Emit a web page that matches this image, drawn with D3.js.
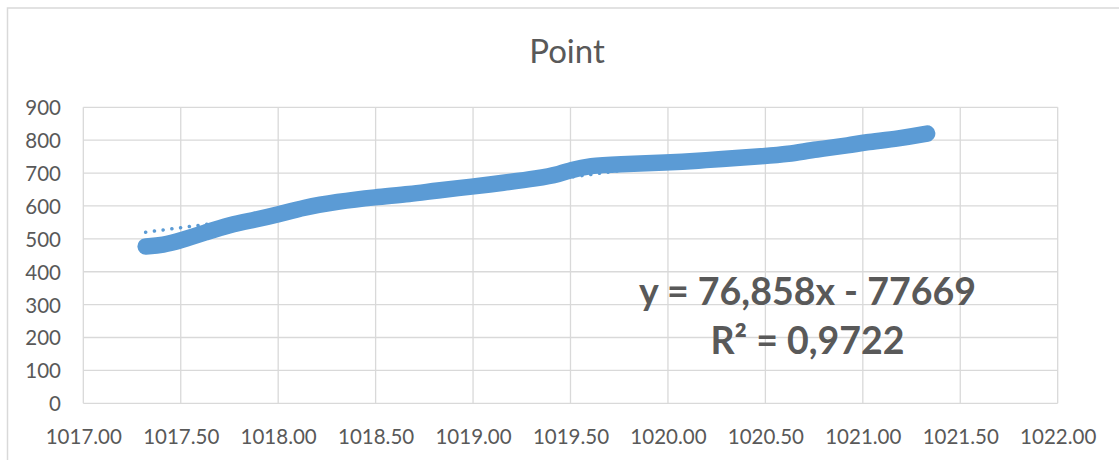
<!DOCTYPE html>
<html>
<head>
<meta charset="utf-8">
<script src="https://cdn.jsdelivr.net/npm/d3@7"></script>
<style>
  html, body { margin: 0; padding: 0; background: #fff; }
  svg { display: block; }
</style>
</head>
<body>
<svg id="chart" width="1119" height="460"></svg>
<script>
// ---- data ----
const pressure = [1017.32, 1017.41, 1017.50, 1017.63, 1017.75, 1017.88, 1018.00, 1018.13, 1018.30, 1018.50,
                  1018.68, 1018.81, 1019.00, 1019.15, 1019.33, 1019.45, 1019.50, 1019.60, 1019.74, 1020.00,
                  1020.17, 1020.25, 1020.50, 1020.61, 1020.76, 1020.94, 1021.00, 1021.19, 1021.33];
const point = [477, 481, 495, 520, 543, 558, 574, 595, 613, 627,
               636, 647, 659, 670, 684, 698, 709, 723, 727, 732,
               738, 742, 752, 757, 772, 785, 793, 805, 820];
const xTicks = [1017.0, 1017.5, 1018.0, 1018.5, 1019.0, 1019.5, 1020.0, 1020.5, 1021.0, 1021.5, 1022.0];
const yTicks = [0, 100, 200, 300, 400, 500, 600, 700, 800, 900];
const trendSlope = 76.858;
const trendIntercept = -77669;
const equationLabel = "y = 76,858x - 77669";
const r2Label = "R² = 0,9722";
const title = "Point";

// ---- layout ----
const svg = d3.select("#chart");
const plotL = 83.3, plotR = 1057.7, plotT = 107.3, plotB = 403.3;
const x = d3.scaleLinear().domain([1017, 1022]).range([plotL, plotR]);
const y = d3.scaleLinear().domain([0, 900]).range([plotB, plotT]);
const fontFam = "Lato, 'Open Sans', sans-serif";
const grid = "#d9d9d9";
const textCol = "#595959";
const blue = "#5b9bd5";

// outer chart border
svg.append("rect").attr("x", 7.5).attr("y", 8).attr("width", 1130).attr("height", 470)
  .attr("fill", "none").attr("stroke", grid).attr("stroke-width", 1.5);

// title
svg.append("text").attr("x", 567).attr("y", 63).attr("text-anchor", "middle")
  .attr("font-family", fontFam).attr("font-size", 33).attr("fill", textCol).text(title);

// gridlines
svg.append("g").selectAll("line").data(yTicks).join("line")
  .attr("x1", plotL).attr("x2", plotR).attr("y1", d => y(d)).attr("y2", d => y(d))
  .attr("stroke", grid).attr("stroke-width", 1.3);
svg.append("g").selectAll("line").data(xTicks).join("line")
  .attr("x1", d => x(d)).attr("x2", d => x(d)).attr("y1", plotT).attr("y2", plotB)
  .attr("stroke", grid).attr("stroke-width", 1.3);

// axes (labels only)
const yAxis = d3.axisLeft(y).tickValues(yTicks).tickSize(0).tickPadding(0).tickFormat(d3.format("d"));
const gy = svg.append("g").attr("transform", `translate(${61},0)`).call(yAxis);
gy.select(".domain").remove();
gy.selectAll("text").attr("font-family", fontFam).attr("font-size", 20.5).attr("fill", textCol).attr("dy", "0.36em");

const xAxis = d3.axisBottom(x).tickValues(xTicks).tickSize(0).tickPadding(0).tickFormat(d3.format(".2f"));
const gx = svg.append("g").attr("transform", `translate(0,${plotB})`).call(xAxis);
gx.select(".domain").remove();
gx.selectAll("text").attr("font-family", fontFam).attr("font-size", 20.5).attr("fill", textCol).attr("dy", null).attr("y", 41);

// trendline (dotted)
const xMin = d3.min(pressure), xMax = d3.max(pressure);
svg.append("line")
  .attr("x1", x(xMin)).attr("y1", y(trendSlope * xMin + trendIntercept))
  .attr("x2", x(xMax)).attr("y2", y(trendSlope * xMax + trendIntercept))
  .attr("stroke", blue).attr("stroke-width", 3.5).attr("stroke-linecap", "round")
  .attr("stroke-dasharray", "0.1 8.7");

// data series (dense markers -> thick band)
const pts = pressure.map((p, i) => [p, point[i]]);
svg.append("path").datum(pts)
  .attr("d", d3.line().x(d => x(d[0])).y(d => y(d[1])).curve(d3.curveBasis))
  .attr("fill", "none").attr("stroke", blue).attr("stroke-width", 16.5)
  .attr("stroke-linecap", "round").attr("stroke-linejoin", "round");

// equation labels
svg.append("text").attr("x", 807.5).attr("y", 305).attr("text-anchor", "middle")
  .attr("font-family", fontFam).attr("font-weight", "bold").attr("font-size", 37.5).attr("fill", textCol)
  .text(equationLabel);
svg.append("text").attr("x", 807.5).attr("y", 354).attr("text-anchor", "middle")
  .attr("font-family", fontFam).attr("font-weight", "bold").attr("font-size", 37.5).attr("fill", textCol)
  .text(r2Label);
</script>
</body>
</html>
